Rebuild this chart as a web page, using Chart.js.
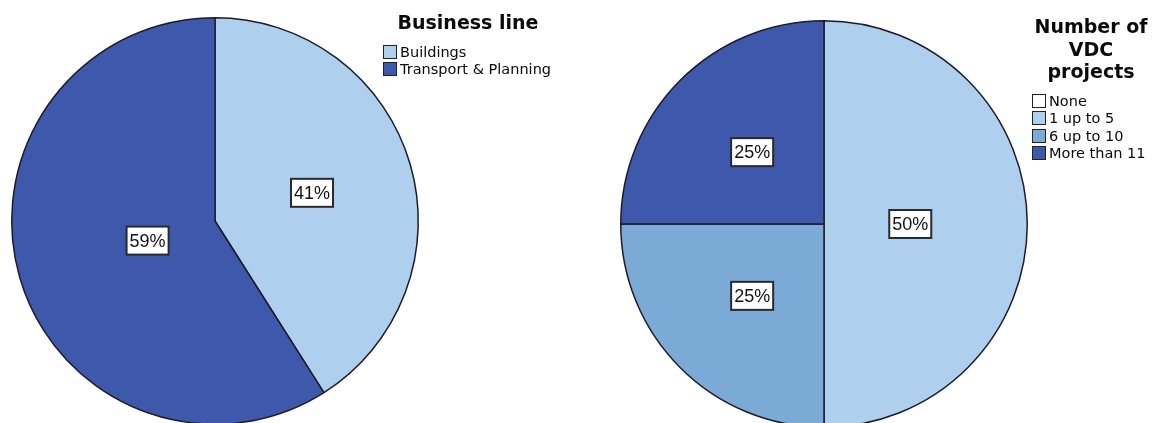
<!DOCTYPE html>
<html lang="en">
<head>
    <meta charset="UTF-8">
    <script src="https://cdn.jsdelivr.net/npm/chart.js"></script>
    <title>Business line and VDC projects</title>
    <style>
        body { margin: 0; width: 1156px; height: 423px; overflow: hidden; background: #fff; position: relative; font-family: "DejaVu Sans", sans-serif; }
        canvas { position: absolute; top: 0; }
        .legend { position: absolute; color: #0a0a0a; }
        .legend h3 { margin: 0; font-size: 19px; font-weight: bold; text-align: center; line-height: 22.5px; }
        .legend ul { list-style: none; margin: 0; padding: 0; }
        .legend li { font-size: 14.5px; height: 17.5px; line-height: 17.5px; white-space: nowrap; }
        .legend li span { display: inline-block; width: 14px; height: 14px; border: 1px solid #222; box-sizing: border-box; vertical-align: -2px; margin-right: 3px; }
    </style>
</head>
<body>
    <canvas id="businessChart" width="430" height="442" style="left:0"></canvas>
    <canvas id="vdcChart" width="450" height="448" style="left:600px"></canvas>
    <div class="legend" id="businessLegend" style="left:383px; top:11px; width:172px">
        <h3 style="margin-left:-2px">Business line</h3>
        <ul style="margin-top:10px"></ul>
    </div>
    <div class="legend" id="vdcLegend" style="left:1030px; top:15px; width:122px">
        <h3>Number of<br>VDC<br>projects</h3>
        <ul style="margin-top:10px; margin-left:2px"></ul>
    </div>
    <script>
        const businessLines = ['Buildings', 'Transport & Planning'];
        const businessShare = [41, 59];

        const vdcCategories = ['None', '1 up to 5', '6 up to 10', 'More than 11'];
        const vdcShare = [0, 50, 25, 25];

        const businessColors = ['#aecfee', '#3e58ac'];
        const vdcColors = ['#ffffff', '#aecfee', '#7baad7', '#3e58ac'];

        // boxed percentage label inside each slice
        const sliceLabels = {
            id: 'sliceLabels',
            afterDatasetsDraw(chart) {
                const ctx = chart.ctx;
                const values = chart.data.datasets[0].data;
                chart.getDatasetMeta(0).data.forEach((arc, i) => {
                    if (!values[i]) return;
                    const sweep = arc.endAngle - arc.startAngle;
                    const mid = (arc.startAngle + arc.endAngle) / 2;
                    const r = arc.outerRadius;
                    const centroid = 4 * r * Math.sin(sweep / 2) / (3 * sweep);
                    const dist = Math.min(centroid, r / 2);
                    const x = arc.x + Math.cos(mid) * dist;
                    const y = arc.y + Math.sin(mid) * dist;
                    const text = values[i] + '%';
                    ctx.save();
                    ctx.font = '18px "Liberation Sans"';
                    const w = ctx.measureText(text).width + 6;
                    const h = 28;
                    ctx.fillStyle = '#fff';
                    ctx.fillRect(x - w / 2, y - h / 2, w, h);
                    ctx.strokeStyle = '#2a2a2a';
                    ctx.lineWidth = 2;
                    ctx.strokeRect(x - w / 2, y - h / 2, w, h);
                    ctx.fillStyle = '#111';
                    ctx.textAlign = 'center';
                    ctx.textBaseline = 'middle';
                    ctx.fillText(text, x, y + 1);
                    ctx.restore();
                });
            }
        };

        function makePie(id, labels, values, colors, padding) {
            new Chart(document.getElementById(id), {
                type: 'pie',
                data: {
                    labels: labels,
                    datasets: [{
                        data: values,
                        backgroundColor: colors,
                        borderColor: '#1c1c28',
                        borderWidth: 1.5,
                        hoverOffset: 0
                    }]
                },
                options: {
                    responsive: false,
                    animation: false,
                    layout: { padding: padding },
                    plugins: {
                        legend: { display: false },
                        tooltip: { enabled: false }
                    }
                },
                plugins: [sliceLabels]
            });
        }

        function makeLegend(id, labels, colors) {
            const list = document.querySelector('#' + id + ' ul');
            labels.forEach((name, i) => {
                const li = document.createElement('li');
                const box = document.createElement('span');
                box.style.background = colors[i];
                li.appendChild(box);
                li.appendChild(document.createTextNode(name));
                list.appendChild(li);
            });
        }

        makePie('businessChart', businessLines, businessShare, businessColors,
            { top: 17, bottom: 17, left: 11, right: 11 });
        makePie('vdcChart', vdcCategories, vdcShare, vdcColors,
            { top: 20, bottom: 20, left: 20, right: 22 });

        makeLegend('businessLegend', businessLines, businessColors);
        makeLegend('vdcLegend', vdcCategories, vdcColors);
    </script>
</body>
</html>
